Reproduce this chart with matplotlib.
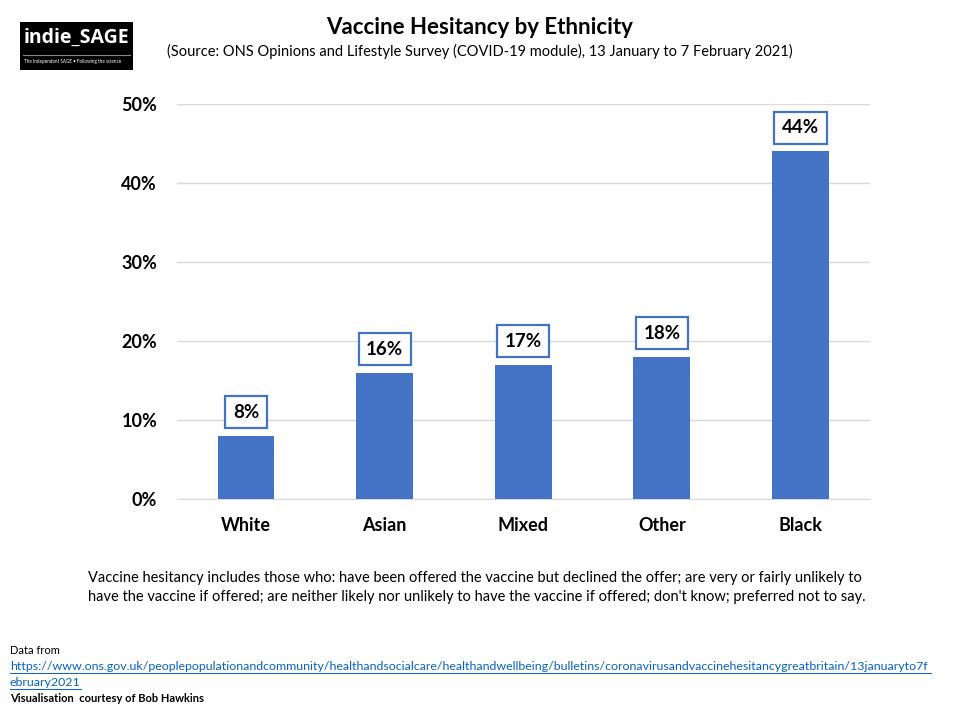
import matplotlib
matplotlib.use("Agg")
import matplotlib.pyplot as plt
from matplotlib.patches import Rectangle

categories = ["White", "Asian", "Mixed", "Other", "Black"]
values = [8, 16, 17, 18, 44]
yticks = [0, 10, 20, 30, 40, 50]
ytick_labels = ["0%", "10%", "20%", "30%", "40%", "50%"]

plt.rcParams['font.family'] = ['Lato', 'DejaVu Sans']

fig = plt.figure(figsize=(9.6, 7.2), dpi=100)
ax = fig.add_axes([0.184, 0.3069, 0.722, 0.5487])

blue = "#4472C4"
ax.bar(range(len(categories)), values, width=0.41, color=blue, zorder=3)
ax.set_xlim(-0.5, len(categories) - 0.5)
ax.set_ylim(0, 50)
ax.set_yticks(yticks)
ax.set_yticklabels(ytick_labels, fontsize=13, fontweight='bold')
ax.set_xticks(range(len(categories)))
ax.set_xticklabels(categories, fontsize=13, fontweight='bold')
ax.tick_params(length=0)
ax.tick_params(axis='x', pad=13)
ax.tick_params(axis='y', pad=14)
ax.grid(axis='y', color='#d9d9d9', linewidth=1, zorder=0)
for s in ['top', 'right', 'left']:
    ax.spines[s].set_visible(False)
ax.spines['bottom'].set_color('#d9d9d9')

for i, v in enumerate(values):
    ax.annotate(f"{v}%", (i, v), xytext=(0, 17), textcoords='offset points',
                ha='center', va='center', fontsize=13.5, fontweight='bold',
                bbox=dict(boxstyle='square,pad=0.4', fc='white', ec=blue, lw=1.6),
                zorder=5)

fig.text(0.5, 0.962, "Vaccine Hesitancy by Ethnicity", ha='center', va='center',
         fontsize=16, fontweight='bold')
fig.text(0.5, 0.928, "(Source: ONS Opinions and Lifestyle Survey (COVID-19 module), 13 January to 7 February 2021)",
         ha='center', va='center', fontsize=10.5)

# logo
fig.patches.append(Rectangle((20/960, 1-70/720), 113/960, 48/720, transform=fig.transFigure,
                             facecolor='black', edgecolor='none'))
fig.text(24/960, 1-38/720, "indie_SAGE", color='white', fontsize=14, fontweight='bold',
         ha='left', va='center', family=['Open Sans', 'DejaVu Sans'])
fig.lines.append(plt.Line2D([23/960, 130/960], [1-55/720, 1-55/720], transform=fig.transFigure,
                            color='#888888', lw=0.8))
fig.text(24/960, 1-62/720, "The Independent SAGE \u2022 Following the science", color='white',
         fontsize=3.3, ha='left', va='center')

fig.text(88/960, 1-578/720,
         "Vaccine hesitancy includes those who: have been offered the vaccine but declined the offer; are very or fairly unlikely to",
         ha='left', va='center', fontsize=10.5)
fig.text(88/960, 1-597/720,
         "have the vaccine if offered; are neither likely nor unlikely to have the vaccine if offered; don't know; preferred not to say.",
         ha='left', va='center', fontsize=10.5)

fig.text(10/960, 1-650/720, "Data from", ha='left', va='center', fontsize=8)
link1 = "https://www.ons.gov.uk/peoplepopulationandcommunity/healthandsocialcare/healthandwellbeing/bulletins/coronavirusandvaccinehesitancygreatbritain/13januaryto7f"
fig.text(10/960, 1-666/720, link1, ha='left', va='center', fontsize=8.9, color='#0563C1',
         family=['Liberation Sans Narrow', 'Lato', 'DejaVu Sans'])
fig.text(10/960, 1-682/720, "ebruary2021", ha='left', va='center', fontsize=8.9, color='#0563C1',
         family=['Liberation Sans Narrow', 'Lato', 'DejaVu Sans'])
fig.lines.append(plt.Line2D([10/960, 931/960], [1-673/720, 1-673/720], transform=fig.transFigure,
                            color='#0563C1', lw=0.7))
fig.lines.append(plt.Line2D([10/960, 81/960], [1-689/720, 1-689/720], transform=fig.transFigure,
                            color='#0563C1', lw=0.7))
fig.text(10/960, 1-699/720, "Visualisation  courtesy of Bob Hawkins", ha='left', va='center',
         fontsize=8, fontweight='bold')

fig.savefig("out.png", dpi=100)
